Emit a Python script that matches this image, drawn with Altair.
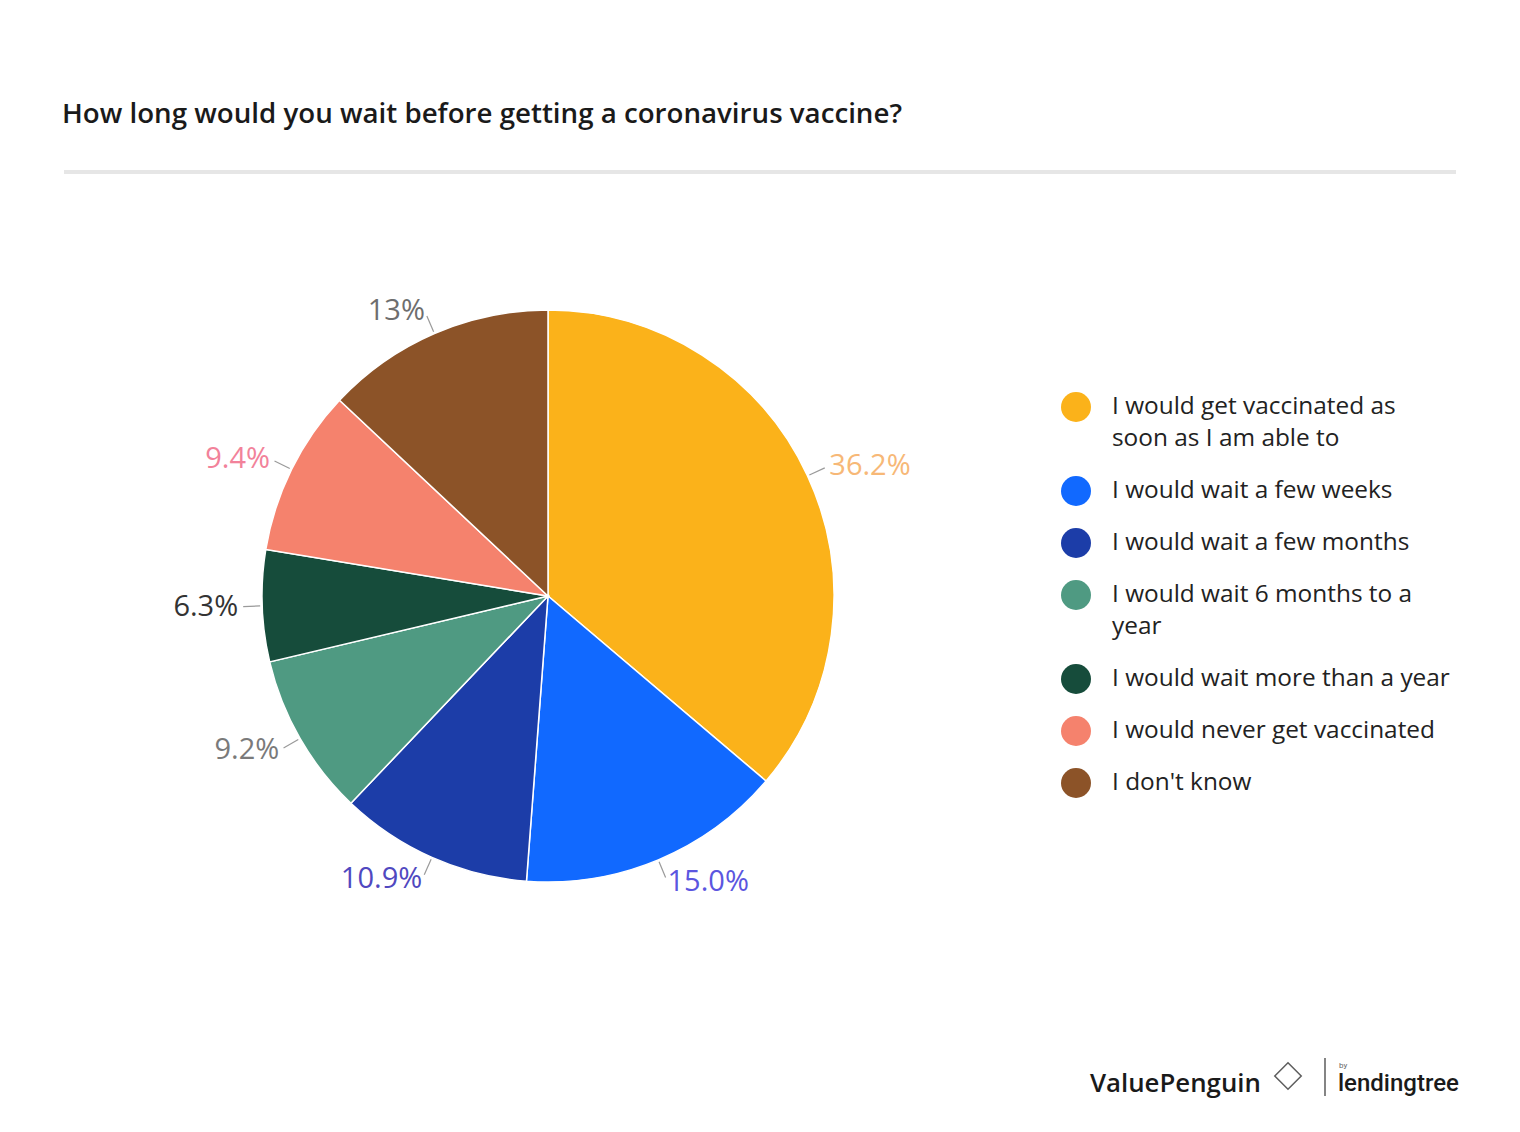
import altair as alt
import pandas as pd

# ---- data ----
categories = [
    "I would get vaccinated as soon as I am able to",
    "I would wait a few weeks",
    "I would wait a few months",
    "I would wait 6 months to a year",
    "I would wait more than a year",
    "I would never get vaccinated",
    "I don't know",
]
values = [36.2, 15.0, 10.9, 9.2, 6.3, 9.4, 13.0]
value_labels = ["36.2%", "15.0%", "10.9%", "9.2%", "6.3%", "9.4%", "13%"]
legend_lines = [
    ["I would get vaccinated as", "soon as I am able to"],
    ["I would wait a few weeks"],
    ["I would wait a few months"],
    ["I would wait 6 months to a", "year"],
    ["I would wait more than a year"],
    ["I would never get vaccinated"],
    ["I don't know"],
]
title_text = "How long would you wait before getting a coronavirus vaccine?"

# ---- styles ----
slice_colors = ["#FBB21A", "#1169FF", "#1C3DA8", "#4F9A82", "#164C3B", "#F5826D", "#8C5328"]
label_colors = ["#F7B877", "#5B56E0", "#5048C0", "#7A7A7A", "#333333", "#F2829A", "#6E6E6E"]
FONT = "Open Sans"
CX, CY, R = 540, 588, 286
RL = 310
W, H = 1504, 1116

df = pd.DataFrame({
    "category": categories,
    "value": values,
    "label": value_labels,
    "order": list(range(len(categories))),
    "lcolor": label_colors,
})

color_scale = alt.Scale(domain=categories, range=slice_colors)
base = alt.Chart(df)

pie = base.mark_arc(outerRadius=R, stroke="white", strokeWidth=1.5).encode(
    theta=alt.Theta("value:Q", stack=True),
    color=alt.Color("category:N", scale=color_scale, legend=None),
    order=alt.Order("order:Q"),
    x=alt.value(CX),
    y=alt.value(CY),
)

geo = base.transform_joinaggregate(total="sum(value)").transform_window(
    cum="sum(value)", sort=[alt.SortField("order")]
).transform_calculate(
    mid="(datum.cum - datum.value/2) / datum.total * 2 * PI",
).transform_calculate(
    x1=f"{CX} + {R+2}*sin(datum.mid)",
    y1=f"{CY} - {R+2}*cos(datum.mid)",
    x2=f"{CX} + {RL-5}*sin(datum.mid)",
    y2=f"{CY} - {RL-5}*cos(datum.mid)",
    ax=f"{CX} + {RL}*sin(datum.mid)",
    ay=f"{CY} - {RL}*cos(datum.mid)",
)

leaders = geo.mark_rule(color="#9a9a9a", strokeWidth=1.2).encode(
    x=alt.X("x1:Q", scale=None, axis=None),
    y=alt.Y("y1:Q", scale=None, axis=None),
    x2="x2:Q",
    y2="y2:Q",
)

def side_labels(cond, align):
    return geo.transform_filter(cond).mark_text(
        align=align, baseline="middle", fontSize=29, font=FONT
    ).encode(
        x=alt.X("ax:Q", scale=None, axis=None),
        y=alt.Y("ay:Q", scale=None, axis=None),
        text="label:N",
        color=alt.Color("lcolor:N", scale=None),
    )

labels_right = side_labels("sin(datum.mid) >= 0", "left")
labels_left = side_labels("sin(datum.mid) < 0", "right")

# legend built from data
rows = []
lineno = 0
for i, (cat, lines) in enumerate(zip(categories, legend_lines)):
    for j, t in enumerate(lines):
        rows.append({"category": cat, "item": i, "line": j, "lineno": lineno, "text": t})
        lineno += 1
ldf = pd.DataFrame(rows)
LTOP = 399
lbase = alt.Chart(ldf).transform_calculate(ly=f"{LTOP} + datum.lineno*32 + datum.item*20")

legend_sym = lbase.transform_filter("datum.line == 0").mark_point(
    shape="circle", filled=True, size=900, opacity=1
).encode(
    x=alt.value(1068),
    y=alt.Y("ly:Q", scale=None, axis=None),
    color=alt.Color("category:N", scale=color_scale, legend=None),
)
legend_txt = lbase.mark_text(align="left", baseline="middle", fontSize=24.4, font=FONT, color="#222222").encode(
    x=alt.value(1104),
    y=alt.Y("ly:Q", scale=None, axis=None),
    text="text:N",
)

# decorations
title = alt.Chart(pd.DataFrame({"t": [title_text]})).mark_text(
    align="left", baseline="middle", fontSize=27.7, fontWeight=600, font=FONT, color="#1a1a1a"
).encode(x=alt.value(54), y=alt.value(107), text="t:N")

divider = alt.Chart(pd.DataFrame({"a": [0]})).mark_rule(color="#e6e6e6", strokeWidth=4).encode(
    x=alt.value(56), x2=alt.value(1448), y=alt.value(164)
)

footer_vp = alt.Chart(pd.DataFrame({"t": ["ValuePenguin"]})).mark_text(
    align="left", baseline="middle", fontSize=25.8, fontWeight=600, font=FONT, color="#1a1a1a"
).encode(x=alt.value(1082), y=alt.value(1076), text="t:N")

logo = alt.Chart(pd.DataFrame({"a": [0]})).mark_point(
    shape="diamond", size=700, filled=False, color="#1a1a1a", strokeWidth=1.5
).encode(x=alt.value(1280), y=alt.value(1068))

sep = alt.Chart(pd.DataFrame({"a": [0]})).mark_rule(color="#333333", strokeWidth=1.2).encode(
    x=alt.value(1317), y=alt.value(1050), y2=alt.value(1088)
)

footer_lt = alt.Chart(pd.DataFrame({"t": ["lendingtree"]})).mark_text(
    align="left", baseline="middle", fontSize=24, fontWeight=500, font="Roboto", color="#1a1a1a"
).encode(x=alt.value(1330), y=alt.value(1076), text="t:N")

footer_by = alt.Chart(pd.DataFrame({"t": ["by"]})).mark_text(
    align="left", baseline="middle", fontSize=8, font="Roboto", color="#666666"
).encode(x=alt.value(1331), y=alt.value(1058), text="t:N")

chart = alt.layer(
    title, divider, pie, leaders, labels_right, labels_left, legend_sym, legend_txt,
    footer_vp, logo, sep, footer_lt, footer_by
).resolve_scale(color="independent").properties(
    width=W, height=H, autosize=alt.AutoSizeParams(type="none"), padding=0,
    background="white",
).configure_view(stroke=None)

chart.save("out.html", embed_options={"renderer": "svg", "actions": False})
